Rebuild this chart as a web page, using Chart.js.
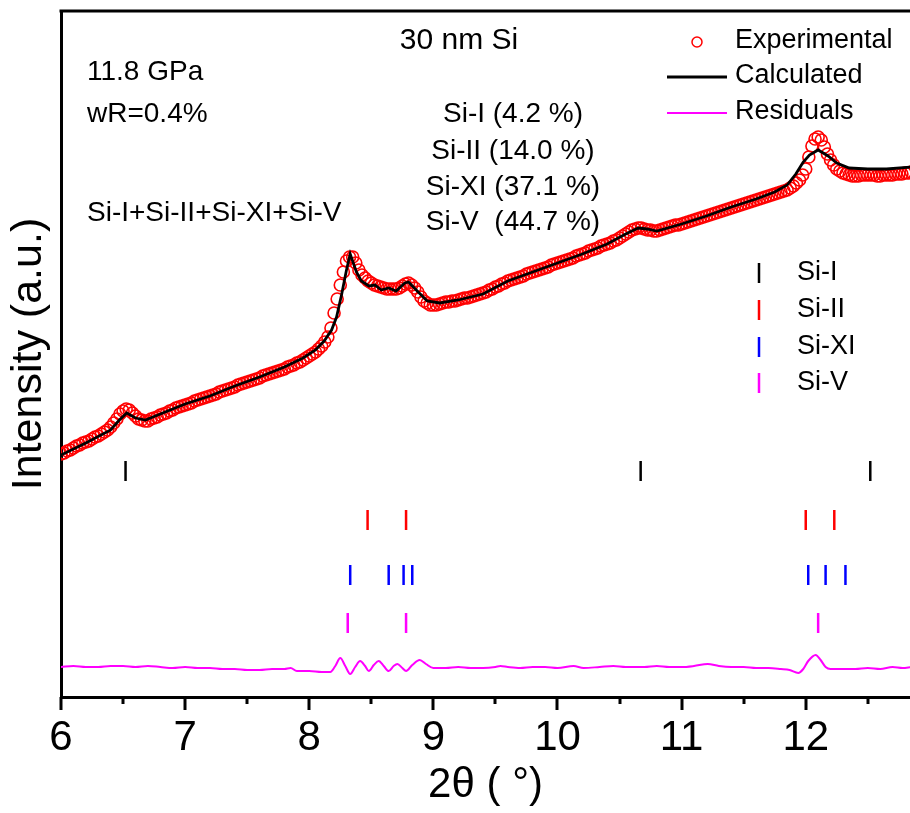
<!DOCTYPE html>
<html>
<head>
<meta charset="utf-8">
<script src="https://cdn.jsdelivr.net/npm/chart.js@4.4.0/dist/chart.umd.min.js"></script>
<style>
  html, body { margin: 0; padding: 0; background: #fff; }
</style>
</head>
<body>
<canvas id="xrd" width="910" height="813"></canvas>
<script>
const expStart = 6.0;
const expStep = 0.025;
const expIntensity = [
  243,244,246,247,249,251,252,254,255,256, 258,260,261,263,265,267,270,274,278,283,
  286,288,287,284,281,278,277,276,276,278, 279,280,282,283,284,286,287,289,290,291,
  292,293,294,296,297,298,299,300,301,302, 303,305,306,307,308,309,310,312,313,314,
  315,316,317,318,319,321,322,323,324,325, 326,327,328,330,331,332,334,335,337,339,
  341,343,345,348,351,355,360,369,384,398, 412,425,436,440,440,434,427,422,419,416,
  414,412,411,410,409,408,408,408,408,409, 411,413,414,412,409,405,400,396,394,392,
  392,392,393,394,395,395,396,396,397,398, 399,399,400,401,402,403,404,405,407,408,
  410,411,413,414,416,417,418,419,420,421, 423,424,425,426,427,428,429,430,432,433,
  434,435,436,437,438,439,441,442,443,444, 446,447,448,449,451,452,453,454,456,457,
  459,461,463,465,467,468,469,469,468,467, 467,466,466,467,468,469,470,471,472,472,
  473,474,475,476,477,478,479,480,481,482, 483,484,485,486,487,488,489,490,491,492,
  493,494,495,496,497,498,499,500,501,502, 503,504,505,506,507,509,511,514,517,522,
  528,540,551,558,560,557,550,543,537,532, 528,526,524,523,522,521,521,521,522,522,
  522,522,522,521,521,522,522,522,522,523, 523,523,524,524,525
];

// refined (calculated) profile: [2theta, intensity]
const calculated = [
  [6.00,242],[6.20,254],[6.40,267],[6.47,277],[6.53,284],[6.60,279],[6.68,277],[6.80,283],[7.00,293],[7.20,301],
  [7.40,311],[7.60,320],[7.80,330],[7.95,339],[8.05,347],[8.12,356],[8.18,367],[8.22,380],[8.26,402],[8.30,427],
  [8.33,443],[8.38,425],[8.42,416],[8.48,411],[8.53,412],[8.58,407],[8.64,409],[8.70,406],[8.77,414],[8.80,415],
  [8.87,406],[8.95,396],[9.05,394],[9.20,397],[9.40,403],[9.60,416],[9.80,425],[10.00,434],[10.20,443],[10.40,453],
  [10.55,463],[10.65,469],[10.72,468],[10.80,466],[11.00,473],[11.20,481],[11.40,490],[11.60,498],[11.75,505],[11.85,512],
  [11.92,523],[11.98,535],[12.03,542],[12.10,547],[12.18,541],[12.25,534],[12.35,529],[12.50,528],[12.65,528],[12.85,530]
];

// difference curve, shown offset near the bottom
const residuals = [
  [6.00,30],[6.10,31],[6.20,30],[6.30,30],[6.40,31],[6.50,31],[6.60,30],[6.70,31],[6.80,30],[6.90,29],
  [7.00,30],[7.10,29],[7.20,29],[7.30,28],[7.40,28],[7.50,27],[7.60,27],[7.70,28],[7.80,28],[7.85,29],
  [7.90,26],[8.00,26],[8.10,25],[8.17,25],[8.21,31],[8.25,39],[8.29,31],[8.33,23],[8.37,30],[8.41,36],
  [8.45,31],[8.48,26],[8.52,32],[8.56,36],[8.60,31],[8.64,26],[8.68,31],[8.71,33],[8.75,29],[8.78,26],
  [8.83,32],[8.89,37],[8.94,33],[9.00,29],[9.10,29],[9.20,30],[9.30,29],[9.40,29],[9.50,30],[9.54,31],
  [9.60,30],[9.70,29],[9.80,30],[9.90,30],[10.00,29],[10.13,31],[10.21,29],[10.34,30],[10.45,31],[10.55,30],
  [10.70,30],[10.80,31],[10.90,30],[11.00,30],[11.10,31],[11.21,33],[11.30,31],[11.40,30],[11.50,30],[11.60,29],
  [11.70,29],[11.80,28],[11.87,27],[11.94,24],[11.98,28],[12.02,36],[12.08,42],[12.12,37],[12.16,30],[12.20,28],
  [12.30,28],[12.40,28],[12.50,29],[12.60,28],[12.70,30],[12.78,29],[12.85,30]
];

// Bragg reflection positions (2theta) for each phase
const peaksSiI  = [6.52, 10.67, 12.52];
const peaksSiII = [8.47, 8.78, 12.00, 12.23];
const peaksSiXI = [8.33, 8.64, 8.76, 8.83, 12.02, 12.16, 12.32];
const peaksSiV  = [8.31, 8.78, 12.10];

// offset level of each row of reflection ticks (a.u.)
const rowSiI = 226, rowSiII = 177, rowSiXI = 122, rowSiV = 74;

const phaseFractions = ['Si-I (4.2 %)', 'Si-II (14.0 %)', 'Si-XI (37.1 %)', 'Si-V  (44.7 %)'];

const FONT = "'Liberation Sans', Arial, sans-serif";

function toPts(arr) {
  return arr.map(p => ({x: p[0], y: p[1]}));
}

function gridPts(start, step, values) {
  return values.map((v, i) => ({x: +(start + i * step).toFixed(3), y: v}));
}

function braggSet(label, peaks, level, color) {
  return {
    label: label,
    data: peaks.map(v => ({x: v, y: level})),
    showLine: false,
    pointStyle: 'line',
    rotation: 90,
    pointRadius: 10,
    borderWidth: 2.5,
    borderColor: color,
    backgroundColor: color,
    order: 0
  };
}

// frame, minor ticks, annotations and legends
const decor = {
  id: 'decor',
  afterDraw(chart) {
    const ctx = chart.ctx;
    const a = chart.chartArea;
    const x = chart.scales.x;
    ctx.save();

    ctx.strokeStyle = '#000';
    ctx.lineWidth = 3;
    ctx.beginPath();
    ctx.moveTo(a.left - 1.5, a.top);
    ctx.lineTo(a.right, a.top);
    ctx.stroke();

    for (let v = 6; v <= 12.5; v += 0.5) {
      const px = Math.round(x.getPixelForValue(v));
      const len = (v % 1 === 0) ? 13 : 7;
      ctx.beginPath();
      ctx.moveTo(px, a.bottom);
      ctx.lineTo(px, a.bottom + len);
      ctx.stroke();
    }

    ctx.fillStyle = '#000';
    ctx.textBaseline = 'middle';

    ctx.font = '30px ' + FONT;
    ctx.textAlign = 'center';
    ctx.fillText('30 nm Si', 459, 41);

    ctx.font = '28px ' + FONT;
    ctx.textAlign = 'left';
    ctx.fillText('11.8 GPa', 87, 72);
    ctx.fillText('wR=0.4%', 87, 114);
    ctx.fillText('Si-I+Si-II+Si-XI+Si-V', 87, 213);

    ctx.textAlign = 'center';
    const rows = [114, 151, 187, 222];
    phaseFractions.forEach((t, i) => ctx.fillText(t, 513, rows[i]));

    // series legend
    ctx.font = '27px ' + FONT;
    ctx.textAlign = 'left';
    ctx.strokeStyle = '#ff0000';
    ctx.lineWidth = 1.5;
    ctx.beginPath();
    ctx.arc(697, 42, 5, 0, Math.PI * 2);
    ctx.stroke();
    ctx.fillText('Experimental', 735, 41);

    ctx.strokeStyle = '#000';
    ctx.lineWidth = 3;
    ctx.beginPath();
    ctx.moveTo(667, 77);
    ctx.lineTo(727, 77);
    ctx.stroke();
    ctx.fillText('Calculated', 735, 76);

    ctx.strokeStyle = '#ff00ff';
    ctx.lineWidth = 2;
    ctx.beginPath();
    ctx.moveTo(667, 113);
    ctx.lineTo(727, 113);
    ctx.stroke();
    ctx.fillText('Residuals', 735, 112);

    // phase legend
    const phases = [['Si-I', '#000000', 273], ['Si-II', '#ff0000', 310], ['Si-XI', '#0000ff', 347], ['Si-V', '#ff00ff', 383]];
    phases.forEach(p => {
      ctx.strokeStyle = p[1];
      ctx.lineWidth = 2.5;
      ctx.beginPath();
      ctx.moveTo(759, p[2] - 10);
      ctx.lineTo(759, p[2] + 10);
      ctx.stroke();
      ctx.fillText(p[0], 797, p[2]);
    });

    ctx.restore();
  }
};

new Chart(document.getElementById('xrd'), {
  type: 'scatter',
  data: {
    datasets: [
      {
        label: 'Calculated',
        data: toPts(calculated),
        showLine: true,
        borderColor: '#000000',
        borderWidth: 2.8,
        pointRadius: 0,
        tension: 0,
        order: 1
      },
      {
        label: 'Experimental',
        data: gridPts(expStart, expStep, expIntensity),
        showLine: false,
        pointStyle: 'circle',
        pointRadius: 6,
        borderWidth: 1.6,
        borderColor: '#ff0000',
        backgroundColor: 'rgba(0,0,0,0)',
        order: 2
      },
      {
        label: 'Residuals',
        data: toPts(residuals),
        showLine: true,
        borderColor: '#ff00ff',
        borderWidth: 2,
        pointRadius: 0,
        cubicInterpolationMode: 'monotone',
        order: 1
      },
      braggSet('Si-I', peaksSiI, rowSiI, '#000000'),
      braggSet('Si-II', peaksSiII, rowSiII, '#ff0000'),
      braggSet('Si-XI', peaksSiXI, rowSiXI, '#0000ff'),
      braggSet('Si-V', peaksSiV, rowSiV, '#ff00ff')
    ]
  },
  options: {
    responsive: false,
    animation: false,
    layout: { autoPadding: false, padding: { top: 11, right: 0, left: 0, bottom: 0 } },
    plugins: {
      legend: { display: false },
      tooltip: { enabled: false }
    },
    scales: {
      x: {
        type: 'linear',
        min: 6,
        max: 12.84,
        afterFit: function(scale) { scale.height = 116; },
        grid: { display: false, drawTicks: false },
        border: { display: true, color: '#000', width: 3 },
        ticks: {
          stepSize: 1,
          includeBounds: false,
          autoSkip: false,
          maxRotation: 0,
          padding: 16,
          color: '#000',
          font: { family: FONT, size: 42 },
          callback: function(v) { return Number.isInteger(v) ? v : ''; }
        },
        title: {
          display: true,
          text: '2θ ( °)',
          color: '#000',
          font: { family: FONT, size: 42 },
          padding: { top: 0, bottom: 2 }
        }
      },
      y: {
        min: 0,
        max: 686,
        afterFit: function(scale) { scale.width = 61; },
        grid: { display: false, drawTicks: false },
        border: { display: true, color: '#000', width: 3 },
        ticks: { display: false },
        title: {
          display: true,
          text: 'Intensity (a.u.)',
          color: '#000',
          font: { family: FONT, size: 43 },
          padding: { top: 3, bottom: 0 }
        }
      }
    }
  },
  plugins: [decor]
});
</script>
</body>
</html>
